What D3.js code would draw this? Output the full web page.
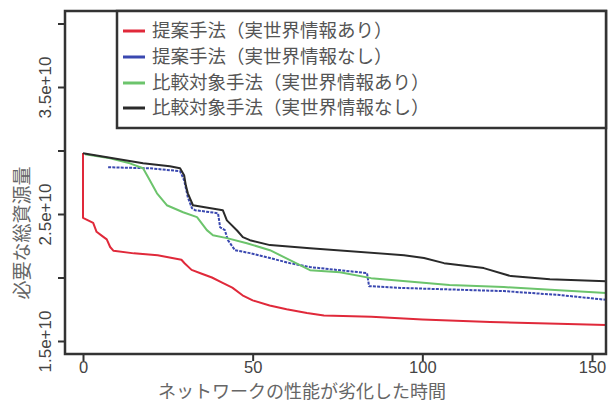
<!DOCTYPE html>
<html><head><meta charset="utf-8">
<script src="https://cdn.jsdelivr.net/npm/d3@7"></script>
<style>body{margin:0;background:#fff}svg{display:block}</style>
</head><body>
<script>
// ---- data ----
const seriesNames = ["提案手法（実世界情報あり）","提案手法（実世界情報なし）","比較対象手法（実世界情報あり）","比較対象手法（実世界情報なし）"];
const seriesColors = ["#e0293a","#3a48b0","#6cc46c","#2a2a2a"];
const redX   = [0,0,1.5,3,4,5.5,7,8,9,15,22,29,30,32,35,38,41,44,47,50,55,60,66,71,85,100,120,140,155];
const redY   = [2.98,2.47,2.45,2.43,2.36,2.33,2.30,2.24,2.21,2.19,2.175,2.14,2.11,2.06,2.03,2.0,1.96,1.92,1.86,1.82,1.78,1.75,1.72,1.70,1.69,1.67,1.65,1.635,1.625];
const blueX  = [7.4,19.7,28.6,29.8,30.9,32.1,33,39.8,40.4,41.8,42.7,44.8,49.2,55.1,61,66.9,83.7,84.3,94.6,124,140.5,155];
const blueY  = [2.868,2.86,2.837,2.766,2.632,2.546,2.53,2.506,2.396,2.373,2.294,2.215,2.192,2.153,2.113,2.082,2.035,1.932,1.917,1.893,1.862,1.822];
const greenX = [0.6,8,13.8,17.7,19.2,21.8,24.7,29.5,33.6,36.5,38.3,42.4,48.3,55.1,61,66.9,75.7,84.9,108,124,155];
const greenY = [2.97,2.939,2.899,2.86,2.789,2.663,2.569,2.514,2.475,2.373,2.333,2.31,2.27,2.215,2.137,2.058,2.042,1.995,1.94,1.925,1.877];
const blackX = [0,7.1,17.7,25.6,28.6,29.8,30.3,30.9,32.4,35.9,41.2,42.4,45.4,47.1,49.2,55.1,66.9,94.6,100.5,106.4,118.1,126.1,137.6,155];
const blackY = [2.978,2.947,2.899,2.876,2.86,2.805,2.726,2.663,2.569,2.553,2.53,2.45,2.37,2.318,2.294,2.255,2.231,2.176,2.153,2.113,2.074,2.011,1.987,1.97];
const xTicks = [0,50,100,150];
const yTicks = [1.5e10,2e10,2.5e10,3e10,3.5e10,4e10];
const yTickLabels = {"1.5e10":"1.5e+10","2.5e10":"2.5e+10","3.5e10":"3.5e+10"};
const xLabel = "ネットワークの性能が劣化した時間";
const yLabel = "必要な総資源量";

// ---- layout ----
const W=609,H=406;
const box={l:65,r:606,t:11,b:354};
const x=d3.scaleLinear().domain([0,150]).range([83,592]);
const y=d3.scaleLinear().domain([1.5e10,3.5e10]).range([341,87]);

const svg=d3.select("body").append("svg").attr("width",W).attr("height",H);
svg.append("defs").append("clipPath").attr("id","clip").append("rect")
  .attr("x",box.l).attr("y",box.t).attr("width",box.r-box.l).attr("height",box.b-box.t);

const series=[[redX,redY],[blueX,blueY],[greenX,greenY],[blackX,blackY]].map(([xs,ys])=>xs.map((v,i)=>[v,ys[i]*1e10]));
const line=d3.line().x(d=>x(d[0])).y(d=>y(d[1]));
const g=svg.append("g").attr("clip-path","url(#clip)");
series.forEach((s,i)=>{
  g.append("path").datum(s).attr("d",line).attr("fill","none")
   .attr("stroke",seriesColors[i]).attr("stroke-width",2)
   .attr("stroke-linejoin","round")
   .attr("stroke-dasharray", i===1?"3,1.2":null);
});

// axes
const ya=svg.append("g").attr("transform",`translate(${box.l},0)`)
  .call(d3.axisLeft(y).tickValues(yTicks).tickSize(7).tickFormat(""));
ya.select(".domain").remove();
ya.selectAll(".tick line").attr("stroke","#333").attr("stroke-width",2);
ya.selectAll(".tick").filter(d=>yTickLabels[(d/1e10)+"e10"]).append("text")
  .attr("transform","translate(-20,0) rotate(-90)").attr("text-anchor","middle").attr("dy","0.35em")
  .attr("fill","#444").style("font-family","'Liberation Sans',Arial,sans-serif").style("font-size","17px")
  .text(d=>yTickLabels[(d/1e10)+"e10"]);

const xa=svg.append("g").attr("transform",`translate(0,${box.b})`)
  .call(d3.axisBottom(x).tickValues(xTicks).tickSize(7).tickPadding(0));
xa.select(".domain").remove();
xa.selectAll(".tick line").attr("stroke","#333").attr("stroke-width",2);
xa.selectAll(".tick text").attr("fill","#444")
  .style("font-family","'Liberation Sans',Arial,sans-serif").style("font-size","16.5px");

// box
svg.append("rect").attr("x",box.l).attr("y",box.t).attr("width",box.r-box.l).attr("height",box.b-box.t)
  .attr("fill","none").attr("stroke","#333").attr("stroke-width",2.5);

// axis titles
svg.append("text").attr("x",302).attr("y",398).attr("text-anchor","middle")
  .attr("fill","#666").style("font-family","'Noto Sans CJK JP',sans-serif").style("font-size","18px").text(xLabel);
svg.append("text").attr("transform","translate(22,233) rotate(-90)").attr("dy","0.35em").attr("text-anchor","middle")
  .attr("fill","#666").style("font-family","'Noto Sans CJK JP',sans-serif").style("font-size","19px").text(yLabel);

// legend
const lg=svg.append("g");
lg.append("rect").attr("x",117).attr("y",box.t).attr("width",box.r-117).attr("height",117)
  .attr("fill","#fff").attr("stroke","#333").attr("stroke-width",2.5);
const rowY=[31,57,83,108];
seriesNames.forEach((n,i)=>{
  lg.append("line").attr("x1",123).attr("x2",145).attr("y1",rowY[i]).attr("y2",rowY[i])
    .attr("stroke",seriesColors[i]).attr("stroke-width",3);
  lg.append("text").attr("x",152).attr("y",rowY[i]).attr("dy","0.35em")
    .attr("fill","#555").style("font-family","'Noto Sans CJK JP',sans-serif").style("font-size","18.5px").text(n);
});
</script>
</body></html>
